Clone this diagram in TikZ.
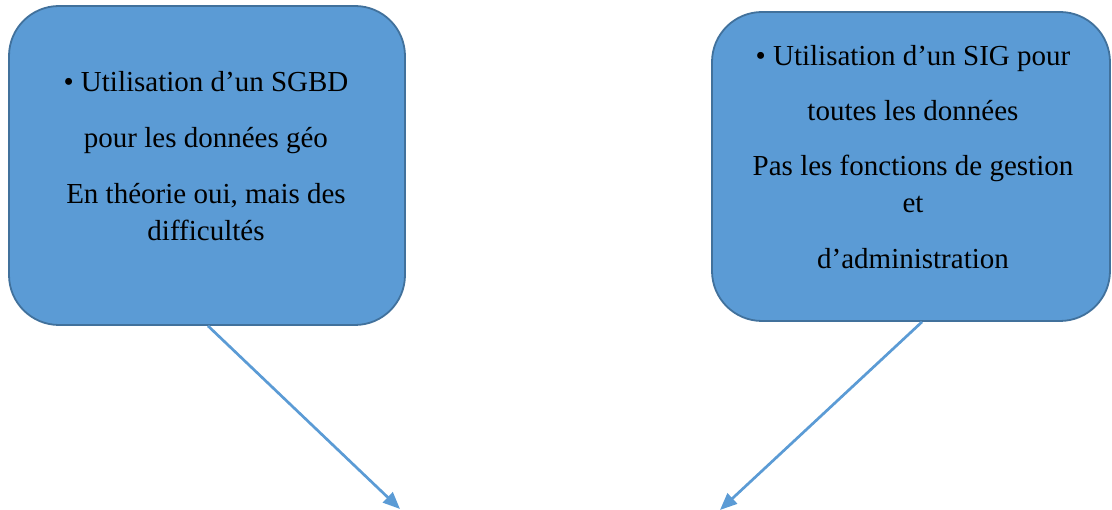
\documentclass[tikz,border=0pt]{standalone}
\usepackage{fontspec}
\setmainfont{Liberation Serif}
\usetikzlibrary{arrows.meta}
\definecolor{boxfill}{HTML}{5B9BD5}
\definecolor{boxline}{HTML}{41719C}
\definecolor{arrowc}{HTML}{5B9BD5}
\tikzset{
  bluebox/.style={draw=boxline, line width=1.8pt, fill=boxfill, rounded corners=50pt, inner sep=0pt},
  boxtext/.style={align=center, inner sep=0pt, font=\fontsize{29}{37}\selectfont, text=black},
  connector/.style={draw=arrowc, line width=2.7pt, -{Triangle[length=17pt,width=14pt]}}
}
\begin{document}
\begin{tikzpicture}[x=1pt,y=1pt]
\useasboundingbox (0,0) rectangle (1112,510);
% boxes
\node[bluebox, minimum width=396pt, minimum height=319pt] (lbox) at (207,344.5) {};
\node[bluebox, minimum width=398pt, minimum height=309pt] (rbox) at (911,343.5) {};
% texts
\node[boxtext, anchor=north] (ltext) at (206,439) {• Utilisation d’un SGBD\\[19pt]pour les données géo\\[19pt]En théorie oui, mais des\\difficultés};
\node[boxtext, anchor=north] (rtext) at (913,465) {• Utilisation d’un SIG pour\\[18pt]toutes les données\\[18pt]Pas les fonctions de gestion\\et\\[19pt]d’administration};
% arrow ends
\coordinate (lend) at (400,1);
\coordinate (rend) at (720,0);
\draw[connector] ([xshift=1pt]lbox.south) -- (lend);
\draw[connector] ([xshift=11pt]rbox.south) -- (rend);
\end{tikzpicture}
\end{document}
